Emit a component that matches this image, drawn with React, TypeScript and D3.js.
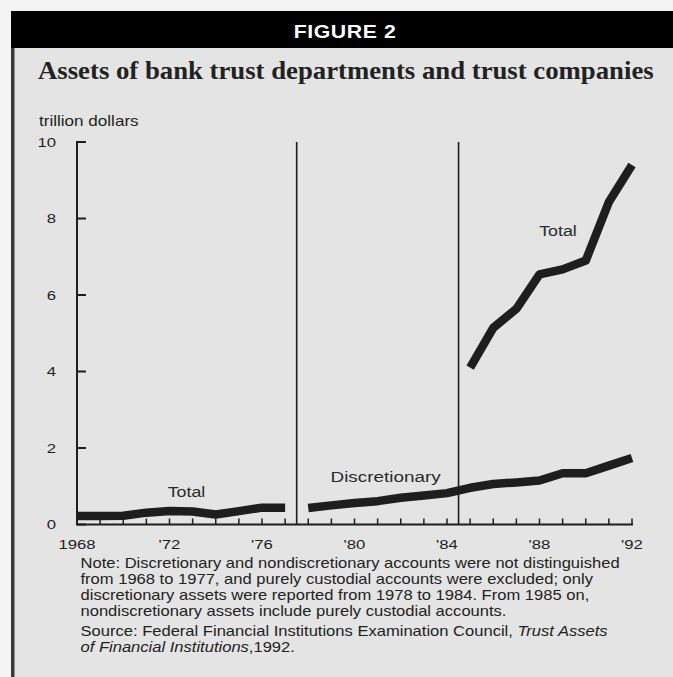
import React from "react";
import * as d3 from "d3";

// ---- data ----
const totalEarlyYears = [1968, 1969, 1970, 1971, 1972, 1973, 1974, 1975, 1976, 1977];
const totalEarly = [0.22, 0.22, 0.23, 0.31, 0.35, 0.34, 0.26, 0.35, 0.44, 0.44];

const discYears = [1978, 1979, 1980, 1981, 1982, 1983, 1984, 1985, 1986, 1987, 1988, 1989, 1990, 1991, 1992];
const discretionary = [0.43, 0.5, 0.56, 0.61, 0.7, 0.76, 0.82, 0.96, 1.06, 1.1, 1.15, 1.34, 1.34, 1.54, 1.74];

const totalLateYears = [1985, 1986, 1987, 1988, 1989, 1990, 1991, 1992];
const totalLate = [4.1, 5.14, 5.64, 6.54, 6.67, 6.9, 8.43, 9.4];

const dividers = [1977.5, 1984.5];
const yTicks = [0, 2, 4, 6, 8, 10];
const xTickYears = [1968, 1969, 1970, 1971, 1972, 1973, 1974, 1975, 1976, 1977, 1978, 1979, 1980, 1981, 1982, 1983, 1984, 1985, 1986, 1987, 1988, 1989, 1990, 1991, 1992];
const xLabelYears = [1968, 1972, 1976, 1980, 1984, 1988, 1992];
const xLabels = ["1968", "'72", "'76", "'80", "'84", "'88", "'92"];

const noteLines = [
  "Note: Discretionary and nondiscretionary accounts were not distinguished",
  "from 1968 to 1977, and purely custodial accounts were excluded; only",
  "discretionary assets were reported from 1978 to 1984.  From 1985 on,",
  "nondiscretionary assets include purely custodial accounts.",
];

const W = 673;
const H = 677;
const SANS = "'Liberation Sans', Arial, Helvetica, sans-serif";
const SERIF = "'Liberation Serif', 'Times New Roman', serif";
const INK = "#1e1e1e";

function SText(props: any) {
  const { x, y, sx = 1, anchor = "start", size, weight = "normal", family = SANS, fill = INK, italic = false, children, letterSpacing } = props;
  return (
    <text
      transform={`translate(${x},${y}) scale(${sx},1)`}
      textAnchor={anchor}
      fontSize={size}
      fontWeight={weight}
      fontFamily={family}
      fontStyle={italic ? "italic" : "normal"}
      fill={fill}
      letterSpacing={letterSpacing}
    >
      {children}
    </text>
  );
}

export default function App() {
  const x = d3.scaleLinear().domain([1968, 1992]).range([77, 632]);
  const y = d3.scaleLinear().domain([0, 10]).range([524.5, 142]);

  const line = d3
    .line<[number, number]>()
    .x((d) => x(d[0]))
    .y((d) => y(d[1]))
    .curve(d3.curveLinear);

  const early = line(totalEarlyYears.map((yr, i) => [yr, totalEarly[i]] as [number, number])) || "";
  const disc = line(discYears.map((yr, i) => [yr, discretionary[i]] as [number, number])) || "";
  const late = line(totalLateYears.map((yr, i) => [yr, totalLate[i]] as [number, number])) || "";

  const tickSx = 1.24;
  const noteSx = 1.2;

  return (
    <svg
      width={W}
      height={H}
      viewBox={`0 0 ${W} ${H}`}
      style={{ position: "absolute", left: 0, top: 0, display: "block" }}
    >
      {/* page */}
      <rect x={0} y={0} width={W} height={H} fill="#f3f3f3" />
      {/* figure panel */}
      <rect x={11} y={11} width={W - 11} height={H - 11} fill="#e4e4e4" />
      {/* header band */}
      <rect x={11} y={11} width={W - 11} height={37} fill="#000" />
      <rect x={11} y={48} width={3.5} height={H - 48} fill="#3a3a3a" />
      <SText x={345} y={38} sx={1.12} anchor="middle" size={19} weight="bold" fill="#fff" letterSpacing={0.5}>
        FIGURE 2
      </SText>

      {/* title */}
      <SText x={38} y={78.5} sx={1.07} size={25} weight="bold" family={SERIF} fill="#222">
        Assets of bank trust departments and trust companies
      </SText>

      {/* y-axis unit */}
      <SText x={39} y={126} sx={1.22} size={14}>
        trillion dollars
      </SText>

      {/* dividers */}
      {dividers.map((d) => (
        <line key={d} x1={x(d)} x2={x(d)} y1={y(10)} y2={y(0)} stroke={INK} strokeWidth={1.6} />
      ))}

      {/* y axis */}
      <line x1={x(1968)} x2={x(1968)} y1={y(0)} y2={y(10) - 1} stroke={INK} strokeWidth={2} />
      {yTicks.map((t) => (
        <g key={t}>
          <line x1={x(1968)} x2={x(1968) + 9} y1={y(t)} y2={y(t)} stroke={INK} strokeWidth={2} />
          <SText x={56} y={y(t) + 4.8} sx={tickSx} anchor="end" size={13.5}>
            {String(t)}
          </SText>
        </g>
      ))}

      {/* x axis */}
      <line x1={x(1968) - 1} x2={x(1992) + 1} y1={y(0)} y2={y(0)} stroke={INK} strokeWidth={2} />
      {xTickYears.map((yr) => (
        <line key={yr} x1={x(yr)} x2={x(yr)} y1={y(0)} y2={y(0) - 6} stroke={INK} strokeWidth={1.5} />
      ))}
      {xLabelYears.map((yr, i) => (
        <SText key={yr} x={x(yr)} y={548.5} sx={tickSx} anchor="middle" size={13.5}>
          {xLabels[i]}
        </SText>
      ))}

      {/* series */}
      <path d={early} fill="none" stroke={INK} strokeWidth={8.5} strokeLinejoin="round" />
      <path d={disc} fill="none" stroke={INK} strokeWidth={8.5} strokeLinejoin="round" />
      <path d={late} fill="none" stroke={INK} strokeWidth={8.5} strokeLinejoin="round" />

      {/* series labels */}
      <SText x={186.5} y={497} sx={1.15} anchor="middle" size={15.5} fill="#2a2a2a">
        Total
      </SText>
      <SText x={558} y={235.5} sx={1.15} anchor="middle" size={15.5} fill="#2a2a2a">
        Total
      </SText>
      <SText x={330.5} y={482} sx={1.22} size={15.5} fill="#2a2a2a">
        Discretionary
      </SText>

      {/* notes */}
      {noteLines.map((l, i) => (
        <SText key={i} x={80.5} y={567.7 + i * 16.2} sx={noteSx} size={13.8} fill="#222">
          {l}
        </SText>
      ))}
      <text transform={`translate(80.5,636) scale(${noteSx},1)`} fontSize={13.8} fontFamily={SANS} fill="#222">
        Source: Federal Financial Institutions Examination Council, <tspan fontStyle="italic">Trust Assets</tspan>
      </text>
      <text transform={`translate(80.5,652.3) scale(${noteSx},1)`} fontSize={13.8} fontFamily={SANS} fill="#222">
        <tspan fontStyle="italic">of Financial Institutions</tspan>,1992.
      </text>
    </svg>
  );
}
